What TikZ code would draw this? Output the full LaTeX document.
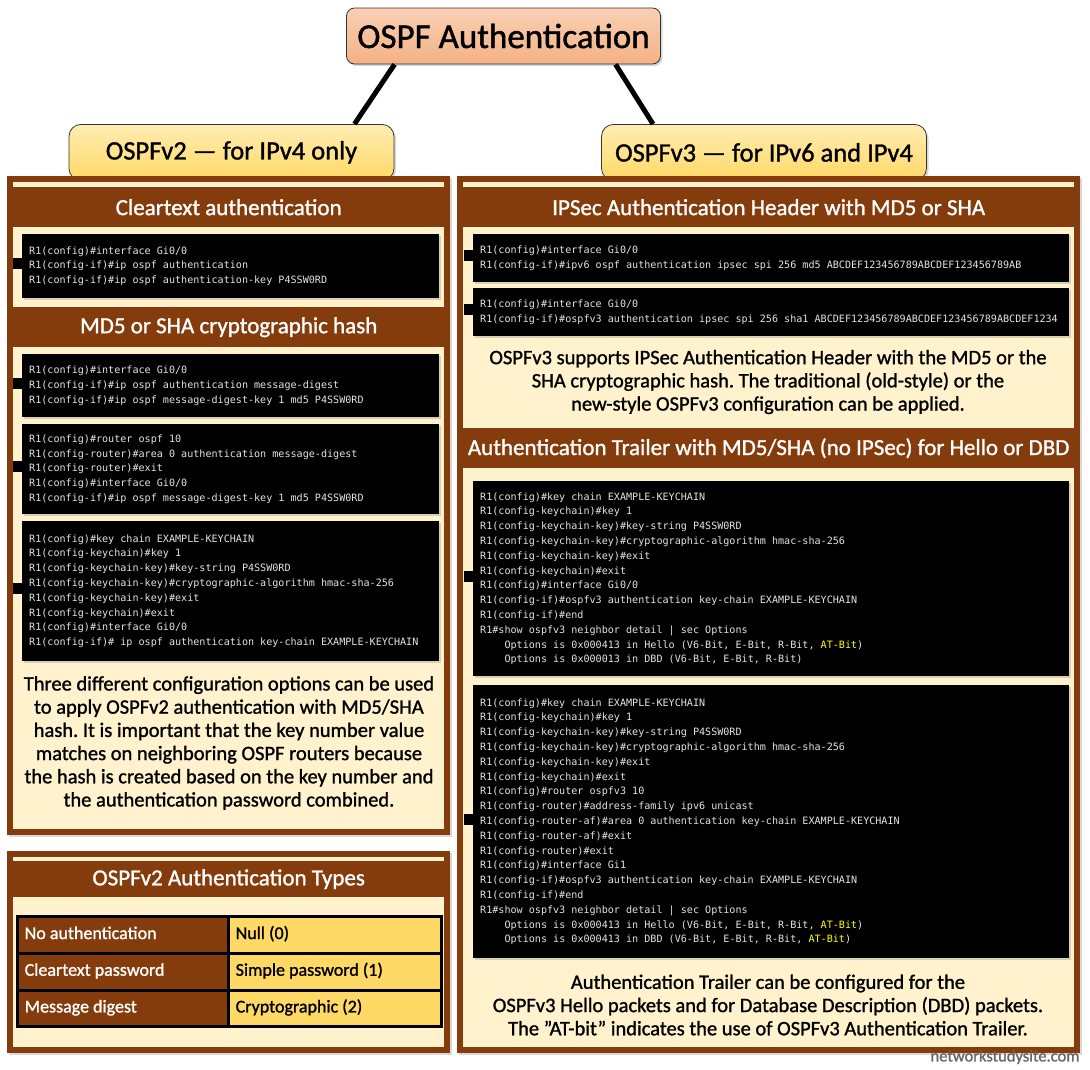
\documentclass[tikz,border=0pt]{standalone}
\usepackage{fontspec}
\setmainfont{Carlito}[FakeBold=1.2]
\newfontfamily\codefont{DejaVu Sans Mono}
\usetikzlibrary{matrix, shadows}
\definecolor{rust}{HTML}{843C0C}
\definecolor{cream}{HTML}{FFF2CC}
\definecolor{gold}{HTML}{FFD966}
\definecolor{peach}{HTML}{F4B183}
\definecolor{codegray}{HTML}{E4E4E4}
\definecolor{atbit}{HTML}{FFFF00}
\newcommand{\optind}{\hspace*{2.41em}}

\begin{document}
\frenchspacing
\begin{tikzpicture}[x=1pt, y=-1pt,
  box/.style={drop shadow={opacity=.3, shadow xshift=2pt, shadow yshift=-2pt}},
  panel/.style={fill=rust, box},
  band/.style={fill=rust, text=white, anchor=north west, minimum width=431, minimum height=40, inner sep=0pt, font=\fontsize{23}{26}\selectfont},
  code/.style={fill=black, text=codegray, anchor=north west, align=flush left, inner xsep=7pt, inner ysep=0pt, font=\codefont\fontsize{10.1}{14.8}\selectfont, box},
  para/.style={align=center, font=\fontsize{20.5}{23.2}\selectfont},
  tab/.style={draw=black!80, line width=.8pt, rounded corners=12pt, top color=gold!50!white, bottom color=gold, minimum width=325, minimum height=56, anchor=north, font=\fontsize{26.5}{30}\selectfont, box},
  link/.style={line width=5pt},
]
\useasboundingbox (0,0) rectangle (1090,1069);

\node[draw=black!80, line width=.8pt, rounded corners=8pt, top color=peach!60!white, bottom color=peach, minimum width=314, minimum height=56, font=\fontsize{35}{40}\selectfont, box] (ospf) at (503.5,36) {OSPF Authentication};
\node[tab] (v2) at (231.5,124) {OSPFv2 — for IPv4 only};
\node[tab] (v3) at (764,124) {OSPFv3 — for IPv6 and IPv4};
\draw[link] ([xshift=-109pt]ospf.south) -- ([xshift=123pt]v2.north);
\draw[link] ([xshift=112pt]ospf.south) -- ([xshift=-111pt]v3.north);

\fill[panel] (7,176) rectangle (450,835);
\fill[cream] (13,182) rectangle (444,829);
\fill[panel] (457,176) rectangle (1080,1053);
\fill[cream] (463,182) rectangle (1074,1047);
\fill[panel] (7,851) rectangle (450,1053);
\fill[cream] (13,857) rectangle (444,1047);

\node[band] (clrhead) at (13,187) {Cleartext authentication};
\node[band] (mdhead) at (13,307) {MD5 or SHA cryptographic hash};
\node[band, minimum height=36] (typehead) at (13,861) {OSPFv2 Authentication Types};
\node[band, minimum width=611] (iphead) at (463,187) {IPSec Authentication Header with MD5 or SHA};
\node[band, minimum width=611] (athead) at (463,428) {Authentication Trailer with MD5/SHA (no IPSec) for Hello or DBD};

\node[code, text width=403, minimum height=64] (clr) at (22,234) {R1(config)\#interface Gi0/0\\
R1(config-if)\#ip ospf authentication\\
R1(config-if)\#ip ospf authentication-key P4SSW0RD};
\node[code, text width=403, minimum height=63] (mdA) at (22,354) {R1(config)\#interface Gi0/0\\
R1(config-if)\#ip ospf authentication message-digest\\
R1(config-if)\#ip ospf message-digest-key 1 md5 P4SSW0RD};
\node[code, text width=403, minimum height=90] (mdB) at (22,424) {R1(config)\#router ospf 10\\
R1(config-router)\#area 0 authentication message-digest\\
R1(config-router)\#exit\\
R1(config)\#interface Gi0/0\\
R1(config-if)\#ip ospf message-digest-key 1 md5 P4SSW0RD};
\node[code, text width=403, minimum height=140] (mdC) at (22,521) {R1(config)\#key chain EXAMPLE-KEYCHAIN\\
R1(config-keychain)\#key 1\\
R1(config-keychain-key)\#key-string P4SSW0RD\\
R1(config-keychain-key)\#cryptographic-algorithm hmac-sha-256\\
R1(config-keychain-key)\#exit\\
R1(config-keychain)\#exit\\
R1(config)\#interface Gi0/0\\
R1(config-if)\# ip ospf authentication key-chain EXAMPLE-KEYCHAIN};

\node[code, text width=582, minimum height=48] (ipA) at (473,234) {R1(config)\#interface Gi0/0\\
R1(config-if)\#ipv6 ospf authentication ipsec spi 256 md5 ABCDEF123456789ABCDEF123456789AB};
\node[code, text width=582, minimum height=48] (ipB) at (473,288) {R1(config)\#interface Gi0/0\\
R1(config-if)\#ospfv3 authentication ipsec spi 256 sha1 ABCDEF123456789ABCDEF123456789ABCDEF1234};
\node[code, text width=582, minimum height=195] (atA) at (473,481) {R1(config)\#key chain EXAMPLE-KEYCHAIN\\
R1(config-keychain)\#key 1\\
R1(config-keychain-key)\#key-string P4SSW0RD\\
R1(config-keychain-key)\#cryptographic-algorithm hmac-sha-256\\
R1(config-keychain-key)\#exit\\
R1(config-keychain)\#exit\\
R1(config)\#interface Gi0/0\\
R1(config-if)\#ospfv3 authentication key-chain EXAMPLE-KEYCHAIN\\
R1(config-if)\#end\\
R1\#show ospfv3 neighbor detail | sec Options\\
\optind Options is 0x000413 in Hello (V6-Bit, E-Bit, R-Bit, \textcolor{atbit}{AT-Bit})\\
\optind Options is 0x000013 in DBD (V6-Bit, E-Bit, R-Bit)};
\node[code, text width=582, minimum height=273] (atB) at (473,685) {R1(config)\#key chain EXAMPLE-KEYCHAIN\\
R1(config-keychain)\#key 1\\
R1(config-keychain-key)\#key-string P4SSW0RD\\
R1(config-keychain-key)\#cryptographic-algorithm hmac-sha-256\\
R1(config-keychain-key)\#exit\\
R1(config-keychain)\#exit\\
R1(config)\#router ospfv3 10\\
R1(config-router)\#address-family ipv6 unicast\\
R1(config-router-af)\#area 0 authentication key-chain EXAMPLE-KEYCHAIN\\
R1(config-router-af)\#exit\\
R1(config-router)\#exit\\
R1(config)\#interface Gi1\\
R1(config-if)\#ospfv3 authentication key-chain EXAMPLE-KEYCHAIN\\
R1(config-if)\#end\\
R1\#show ospfv3 neighbor detail | sec Options\\
\optind Options is 0x000413 in Hello (V6-Bit, E-Bit, R-Bit, \textcolor{atbit}{AT-Bit})\\
\optind Options is 0x000413 in DBD (V6-Bit, E-Bit, R-Bit, \textcolor{atbit}{AT-Bit})};

\foreach \blk in {clr, mdA, mdB, mdC, ipA, ipB, atA, atB}
  \fill ([xshift=-9pt, yshift=8pt]\blk.west) rectangle ([yshift=-3pt]\blk.west);

\node[para] (v2note) at (229,743) {Three different configuration options can be used\\
to apply OSPFv2 authentication with MD5/SHA\\
hash. It is important that the key number value\\
matches on neighboring OSPF routers because\\
the hash is created based on the key number and\\
the authentication password combined.};
\node[para] (ipnote) at (768,382) {OSPFv3 supports IPSec Authentication Header with the MD5 or the\\
SHA cryptographic hash. The traditional (old-style) or the\\
new-style OSPFv3 configuration can be applied.};
\node[para] (atnote) at (768,1005) {Authentication Trailer can be configured for the\\
OSPFv3 Hello packets and for Database Description (DBD) packets.\\
The ”AT-bit” indicates the use of OSPFv3 Authentication Trailer.};

\matrix (types) [matrix of nodes, anchor=north west, inner sep=0pt, column sep=-3pt, row sep=-3pt,
  nodes={draw=black, line width=3pt, outer sep=0pt, minimum height=36.7, text height=12pt, text depth=4pt, align=flush left, inner xsep=7pt, font=\fontsize{18}{20}\selectfont},
  column 1/.style={nodes={fill=rust, text=white, text width=197}},
  column 2/.style={nodes={fill=gold, text width=199}}] at (16,915) {
No authentication & Null (0) \\
Cleartext password & Simple password (1) \\
Message digest & Cryptographic (2) \\
};

\node[text=black!60, anchor=east, font=\fontsize{16.5}{17}\selectfont] (site) at (1083,1057) {networkstudysite.com};
\end{tikzpicture}
\end{document}
